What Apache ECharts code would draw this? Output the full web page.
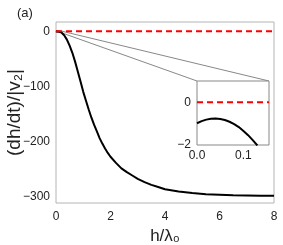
<!DOCTYPE html>
<html>
<head>
<meta charset="utf-8">
<script src="https://cdn.jsdelivr.net/npm/echarts@6/dist/echarts.min.js"></script>
<style>html,body{margin:0;padding:0;background:#fff}#c{width:283px;height:245px}</style>
</head>
<body>
<div id="c"></div>
<script>
// Main curve: h/lambda0 vs (dh/dt)/|v2|
var mainH = [0,0.1,0.2,0.3,0.4,0.5,0.6,0.7,0.8,0.9,1.0,1.1,1.2,1.3,1.4,1.5,1.6,1.7,1.8,1.9,2.0,2.2,2.4,2.6,2.8,3.0,3.25,3.5,3.75,4.0,4.5,5.0,5.5,6.0,6.5,7.0,7.5,8.0];
var mainV = [0,-0.5,-2,-7,-15,-26,-39,-55,-73,-91,-110,-126,-142,-157,-170,-182,-194,-204,-213,-221,-228,-239,-249,-256,-262,-268,-274,-279,-283,-287,-291,-294,-296,-297,-298,-298.5,-299,-299];
// Inset curve
var insetH = [0,0.01,0.02,0.03,0.04,0.05,0.06,0.07,0.08,0.09,0.10,0.11,0.12,0.13];
var insetV = [-0.98,-0.88,-0.81,-0.77,-0.76,-0.78,-0.83,-0.91,-1.02,-1.16,-1.34,-1.54,-1.77,-2.02];
// Reference line
var refH = [0, 8];
var refV = [0, 0];
var insetRefH = [0, 0.155];
// Ticks
var mainXTicks = [0,2,4,6,8];
var mainYTicks = [0,-100,-200,-300];
var insetXTicks = [0,0.1];
var insetYTicks = [0,-2];

function zip(a,b){return a.map(function(v,i){return [v,b[i]];});}

var FONT = 'Liberation Sans, Arial, sans-serif';
var chart = echarts.init(document.getElementById('c'), null, {renderer:'canvas'});
var option = {
  animation:false,
  backgroundColor:'#fff',
  title:{text:'(a)', left:12, top:2, textStyle:{fontSize:13, fontWeight:'normal', color:'#222', fontFamily:FONT}},
  grid:[
    {left:56, right:9, top:22, bottom:42, show:true, borderColor:'#b4b4b4', borderWidth:1, backgroundColor:'transparent', containLabel:false, outerBoundsMode:'none'},
    {left:197, top:81, width:72, height:64, show:true, borderColor:'#888', borderWidth:1, backgroundColor:'#fff', z:5, containLabel:false, outerBoundsMode:'none'}
  ],
  xAxis:[
    {gridIndex:0, type:'value', min:0, max:8, interval:2,
     axisLine:{show:false}, axisTick:{show:false}, splitLine:{show:false},
     axisLabel:{color:'#222', fontSize:12, fontFamily:FONT, margin:8},
     name:'h/λ₀', nameLocation:'middle', nameGap:24,
     nameTextStyle:{fontSize:17, color:'#222', fontFamily:FONT}},
    {gridIndex:1, type:'value', min:0, max:0.155,
     axisLine:{show:false}, axisTick:{show:false}, splitLine:{show:false},
     axisLabel:{customValues:insetXTicks, color:'#222', fontSize:12, fontFamily:FONT, margin:5,
       formatter:function(v){return v.toFixed(1);}}, z:6}
  ],
  yAxis:[
    {gridIndex:0, type:'value', min:-312, max:17,
     axisLine:{show:false}, axisTick:{show:false}, splitLine:{show:false},
     axisLabel:{customValues:mainYTicks, color:'#222', fontSize:12, fontFamily:FONT, margin:6,
       formatter:function(v){return v<0? '\u2212'+(-v):String(v);}},
     name:'(dh/dt)/|v₂|', nameLocation:'middle', nameGap:32, nameRotate:90, nameMoveOverlap:false,
     nameTextStyle:{fontSize:19, color:'#222', fontFamily:FONT}},
    {gridIndex:1, type:'value', min:-2, max:1,
     axisLine:{show:false}, axisTick:{show:false}, splitLine:{show:false},
     axisLabel:{customValues:insetYTicks, color:'#222', fontSize:12, fontFamily:FONT, margin:6,
       formatter:function(v){return v<0? '\u2212'+(-v):String(v);}}, z:6}
  ],
  series:[
    {type:'line', xAxisIndex:0, yAxisIndex:0, data:zip(mainH, mainV), showSymbol:false,
     lineStyle:{color:'#000', width:2}, z:3},
    {type:'line', xAxisIndex:0, yAxisIndex:0, data:zip(refH, refV), showSymbol:false,
     lineStyle:{color:'#ff0000', width:2, type:[6,4]}, z:4},
    {type:'line', xAxisIndex:1, yAxisIndex:1, data:zip(insetH, insetV), showSymbol:false, clip:true,
     lineStyle:{color:'#000', width:2}, z:7},
    {type:'line', xAxisIndex:1, yAxisIndex:1, data:zip(insetRefH, [0,0]), showSymbol:false, clip:true,
     lineStyle:{color:'#ff0000', width:2, type:[6,4]}, z:7}
  ]
};
chart.setOption(option);

// connector lines from zoomed region in main plot to inset
var pMainUL = chart.convertToPixel({xAxisIndex:0, yAxisIndex:0}, [0, 1]);
var pMainUR = chart.convertToPixel({xAxisIndex:0, yAxisIndex:0}, [0.155, 1]);
var pMainLR = chart.convertToPixel({xAxisIndex:0, yAxisIndex:0}, [0.155, -2]);
var pInUL = chart.convertToPixel({xAxisIndex:1, yAxisIndex:1}, [0, 1]);
var pInUR = chart.convertToPixel({xAxisIndex:1, yAxisIndex:1}, [0.155, 1]);
chart.setOption({graphic:[
  {type:'line', shape:{x1:pMainUL[0], y1:pMainUL[1], x2:pInUL[0], y2:pInUL[1]}, style:{stroke:'#888', lineWidth:1}, z:2},
  {type:'line', shape:{x1:pMainUR[0], y1:pMainUR[1], x2:pInUR[0], y2:pInUR[1]}, style:{stroke:'#888', lineWidth:1}, z:2},
  {type:'rect', shape:{x:pMainUL[0], y:pMainUL[1], width:pMainUR[0]-pMainUL[0], height:pMainLR[1]-pMainUR[1]}, style:{fill:'none', stroke:'#888', lineWidth:1}, z:2}
]});
</script>
</body>
</html>
